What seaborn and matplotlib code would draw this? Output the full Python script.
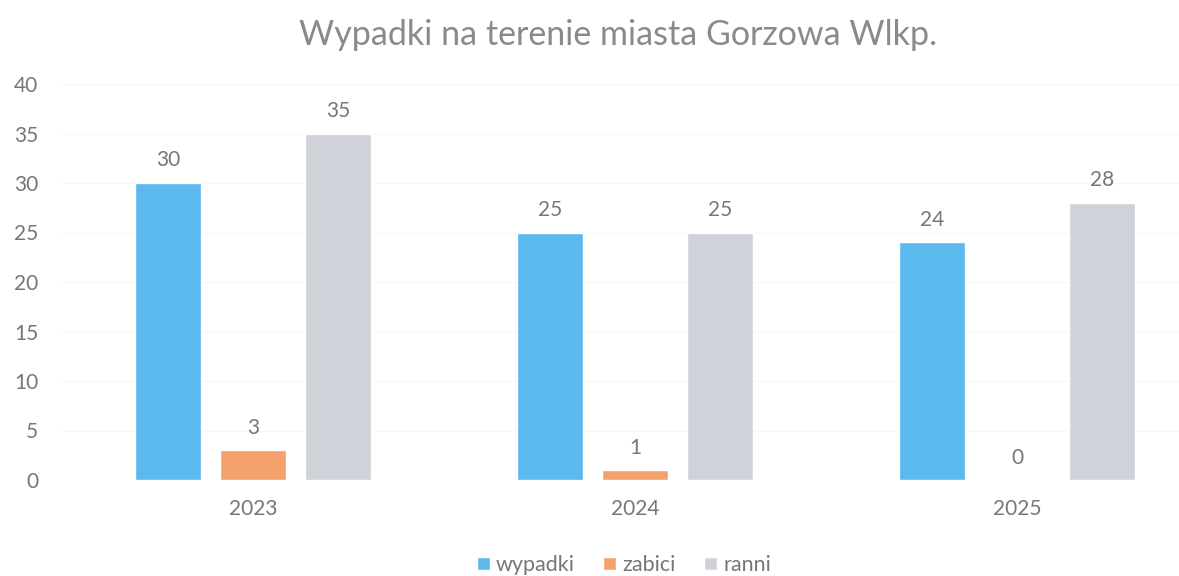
import numpy as np
import pandas as pd
import matplotlib.pyplot as plt
import seaborn as sns

# chart data
years = ["2023", "2024", "2025"]
series = ["wypadki", "zabici", "ranni"]
wypadki = [30, 25, 24]
zabici = [3, 1, 0]
ranni = [35, 25, 28]

colors = ["#5cb9ee", "#f5a16c", "#cfd2d9"]
text_gray = "#767676"

df = pd.DataFrame({
    "rok": years * 3,
    "seria": [s for s in series for _ in years],
    "liczba": wypadki + zabici + ranni,
})

sns.set_theme(style="white")
plt.rcParams["font.family"] = ["Lato", "DejaVu Sans"]

fig = plt.figure(figsize=(11.79, 5.76), dpi=100)
ax = fig.add_axes([62 / 1179, 96 / 576, (1179 - 62) / 1179, 396 / 576])

sns.barplot(data=df, x="rok", y="liczba", hue="seria", palette=colors,
            width=0.667, gap=0.22, saturation=1, ax=ax, legend=True)

ax.set_ylim(0, 40)
ax.set_xlim(-0.5, 2.424)
ax.set_yticks(range(0, 41, 5))
ax.set_xlabel("")
ax.set_ylabel("")
ax.grid(axis="y", color="#f6f6f6", linewidth=0.8)
ax.set_axisbelow(True)
for s in ax.spines.values():
    s.set_visible(False)
ax.tick_params(axis="y", colors=text_gray, labelsize=15, length=0, pad=17)
ax.tick_params(axis="x", colors=text_gray, labelsize=15, length=0, pad=14)

for cont in ax.containers:
    ax.bar_label(cont, padding=9, color=text_gray, fontsize=15)

ax.legend(loc="center", bbox_to_anchor=(0.503, -0.215),
          ncol=3, frameon=False, fontsize=15.5, labelcolor=text_gray,
          handlelength=0.6, handleheight=0.6, handletextpad=0.3,
          columnspacing=1.3)

fig.text(0.524, 1 - 35 / 576, "Wypadki na terenie miasta Gorzowa Wlkp.",
         ha="center", va="center", fontsize=24.5, color="#8a8a8a")

fig.savefig("out.png", dpi=100)
